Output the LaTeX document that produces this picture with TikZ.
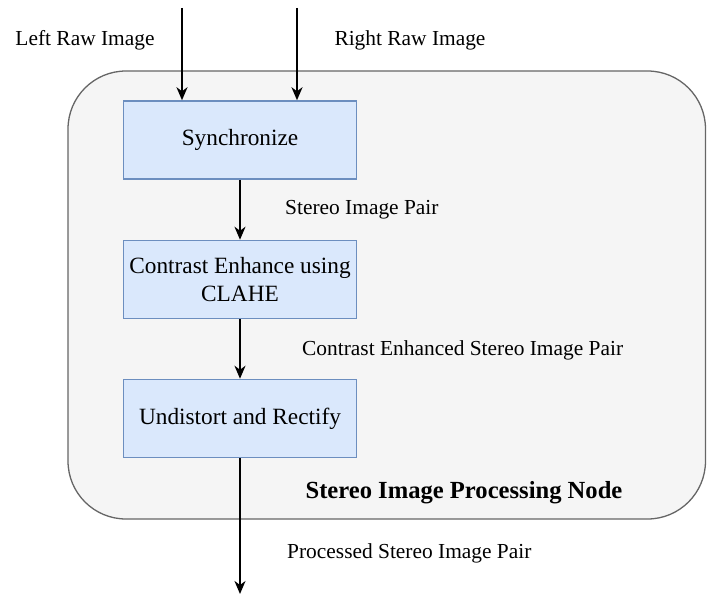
\documentclass[tikz,border=0pt]{standalone}
\usepackage{fontspec}
\setmainfont{Liberation Serif}
\usetikzlibrary{arrows.meta}
\definecolor{boxfill}{HTML}{DAE8FC}
\definecolor{boxline}{HTML}{6C8EBF}
\definecolor{groupfill}{HTML}{F5F5F5}
\definecolor{groupline}{HTML}{666666}
\tikzset{
  stage/.style={draw=boxline, fill=boxfill, line width=1.5pt,
    minimum width=233pt, minimum height=78pt, inner sep=0pt,
    align=center, font=\fontsize{23.3}{28}\selectfont},
  flow/.style={line width=1.6pt, -{Stealth[length=13pt,width=11pt,inset=4pt]}},
  tag/.style={inner sep=0pt, font=\fontsize{21.4}{26}\selectfont},
}
\begin{document}
\begin{tikzpicture}[x=1pt,y=-1pt]
  \useasboundingbox (0,0) rectangle (707,594);
  % processing node container
  \draw[fill=groupfill, draw=groupline, line width=1.3pt, rounded corners=58pt]
    (68,71) rectangle (705.5,519);
  \node[inner sep=0pt, font=\fontsize{24.6}{30}\selectfont\bfseries] (title) at (464,493) {Stereo Image Processing Node};

  % processing stages
  \node[stage] (sync) at (240,140) {Synchronize};
  \node[stage] (clahe) at (240,279.5) {Contrast Enhance using\\CLAHE};
  \node[stage] (rect) at (240,418.5) {Undistort and Rectify};

  % inputs and output
  \coordinate (inL) at (182,8);
  \coordinate (inR) at (297,8);
  \coordinate (out) at (240,594);
  \draw[flow] (inL) -- (inL |- sync.north);
  \draw[flow] (inR) -- (inR |- sync.north);
  \draw[flow] (sync) -- (clahe);
  \draw[flow] (clahe) -- (rect);
  \draw[flow] (rect) -- (out);

  % connector labels
  \node[tag] (lraw) at (85,40) {Left Raw Image};
  \node[tag] (rraw) at (410,40) {Right Raw Image};
  \node[tag, anchor=west] (pair) at (285,210) {Stereo Image Pair};
  \node[tag, anchor=west] (cpair) at (302,350) {Contrast Enhanced Stereo Image Pair};
  \node[tag, anchor=west] (ppair) at (287,553) {Processed Stereo Image Pair};
\end{tikzpicture}
\end{document}
